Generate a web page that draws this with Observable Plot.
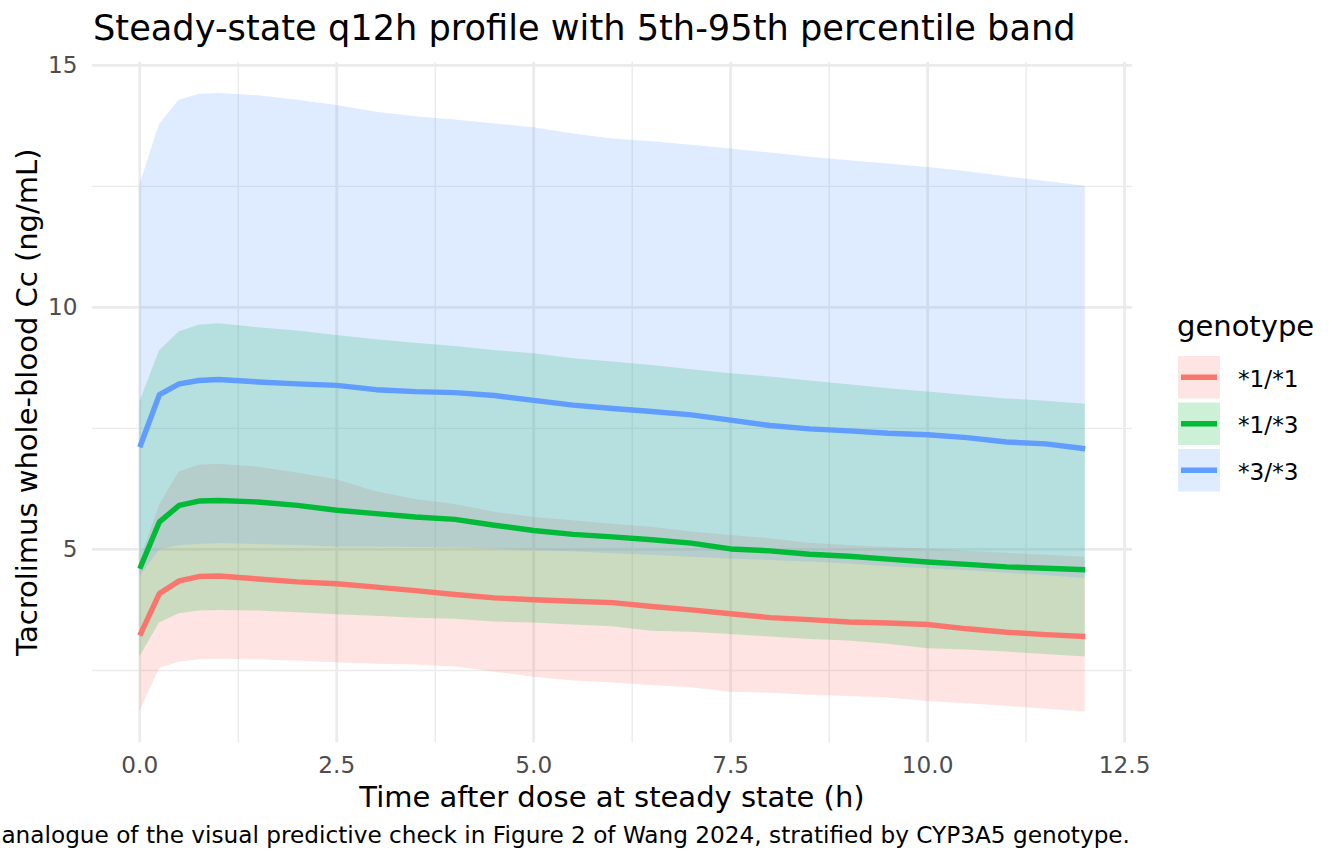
<!DOCTYPE html>
<html>
<head>
<meta charset="utf-8">
<script src="https://cdn.jsdelivr.net/npm/d3@7"></script>
<script src="https://cdn.jsdelivr.net/npm/@observablehq/plot@0.6"></script>
<style>
  html, body { margin: 0; padding: 0; background: #fff; }
  #chart { position: relative; width: 1344px; height: 864px; }
</style>
</head>
<body>
<div id="chart"></div>
<script>
// ---- data ----
const genotypes = ["*1/*1", "*1/*3", "*3/*3"];
const colors = ["#F8766D", "#00BA38", "#619CFF"];
const times = [0, 0.25, 0.5, 0.75, 1, 1.5, 2, 2.5, 3, 3.5, 4, 4.5, 5, 5.5, 6, 6.5, 7, 7.5, 8, 8.5, 9, 9.5, 10, 10.5, 11, 11.5, 12];

const med11 = [3.22, 4.09, 4.35, 4.44, 4.45, 4.39, 4.33, 4.29, 4.22, 4.15, 4.07, 4.00, 3.96, 3.93, 3.90, 3.82, 3.75, 3.67, 3.59, 3.55, 3.50, 3.48, 3.45, 3.36, 3.29, 3.24, 3.20];
const lo11  = [1.64, 2.54, 2.67, 2.72, 2.73, 2.72, 2.69, 2.66, 2.63, 2.61, 2.57, 2.47, 2.36, 2.28, 2.24, 2.19, 2.14, 2.05, 2.03, 1.99, 1.96, 1.93, 1.86, 1.81, 1.76, 1.70, 1.64];
const hi11  = [4.75, 5.91, 6.60, 6.74, 6.76, 6.70, 6.58, 6.44, 6.19, 6.03, 5.93, 5.77, 5.66, 5.59, 5.52, 5.46, 5.36, 5.29, 5.22, 5.13, 5.08, 5.04, 5.01, 4.96, 4.92, 4.88, 4.84];

const med13 = [4.60, 5.57, 5.91, 6.00, 6.01, 5.98, 5.91, 5.81, 5.74, 5.67, 5.62, 5.50, 5.39, 5.31, 5.26, 5.20, 5.13, 5.01, 4.97, 4.90, 4.86, 4.80, 4.74, 4.69, 4.64, 4.61, 4.58];
const lo13  = [2.78, 3.48, 3.67, 3.73, 3.74, 3.73, 3.69, 3.65, 3.62, 3.58, 3.56, 3.50, 3.48, 3.44, 3.40, 3.31, 3.29, 3.24, 3.19, 3.14, 3.11, 3.04, 2.95, 2.92, 2.88, 2.83, 2.78];
const hi13  = [8.04, 9.10, 9.49, 9.63, 9.66, 9.58, 9.51, 9.42, 9.33, 9.26, 9.19, 9.11, 9.04, 8.94, 8.87, 8.80, 8.71, 8.63, 8.56, 8.48, 8.40, 8.32, 8.25, 8.18, 8.11, 8.06, 8.00];

const med33 = [7.11, 8.20, 8.42, 8.49, 8.51, 8.46, 8.42, 8.39, 8.30, 8.26, 8.24, 8.18, 8.08, 7.98, 7.91, 7.85, 7.78, 7.67, 7.56, 7.49, 7.45, 7.40, 7.37, 7.31, 7.22, 7.18, 7.08];
const lo33  = [4.43, 4.99, 5.08, 5.10, 5.12, 5.10, 5.08, 5.05, 5.05, 5.04, 5.03, 5.01, 4.97, 4.95, 4.91, 4.88, 4.84, 4.80, 4.77, 4.74, 4.70, 4.64, 4.60, 4.56, 4.51, 4.46, 4.40];
const hi33  = [12.52, 13.78, 14.28, 14.40, 14.42, 14.37, 14.28, 14.17, 14.03, 13.94, 13.87, 13.79, 13.71, 13.58, 13.48, 13.42, 13.35, 13.27, 13.19, 13.10, 13.03, 12.96, 12.89, 12.80, 12.70, 12.60, 12.50];

const xMajorTicks = [0, 2.5, 5, 7.5, 10, 12.5];
const xMinorTicks = [1.25, 3.75, 6.25, 8.75, 11.25];
const yMajorTicks = [5, 10, 15];
const yMinorTicks = [2.5, 7.5, 12.5];

const titleText = "Steady-state q12h profile with 5th-95th percentile band";
const xLabel = "Time after dose at steady state (h)";
const yLabel = "Tacrolimus whole-blood Cc (ng/mL)";
const captionText = "analogue of the visual predictive check in Figure 2 of Wang 2024, stratified by CYP3A5 genotype.";
const legendTitle = "genotype";

// ---- build table ----
const series = [[lo11, med11, hi11], [lo13, med13, hi13], [lo33, med33, hi33]];
const rows = [];
genotypes.forEach((g, gi) => {
  times.forEach((t, i) => {
    rows.push({genotype: g, t, lo: series[gi][0][i], med: series[gi][1][i], hi: series[gi][2][i]});
  });
});

// ggplot-like 5% expansion
const xExt = d3.extent(times);
const yExt = [d3.min(rows, d => d.lo), d3.max(rows, d => d.hi)];
const xPad = (xExt[1] - xExt[0]) * 0.05;
const yPad = (yExt[1] - yExt[0]) * 0.05;

const W = 1344, H = 864;
const mL = 92, mR = 212, mT = 62, mB = 121.5;
const font = "DejaVu Sans";

const marks = [
  Plot.ruleX(xMinorTicks, {stroke: "#EBEBEB", strokeWidth: 1.4}),
  Plot.ruleY(yMinorTicks, {stroke: "#EBEBEB", strokeWidth: 1.4}),
  Plot.ruleX(xMajorTicks, {stroke: "#EBEBEB", strokeWidth: 2.8}),
  Plot.ruleY(yMajorTicks, {stroke: "#EBEBEB", strokeWidth: 2.8})
];
genotypes.forEach(g => {
  marks.push(Plot.areaY(rows.filter(d => d.genotype === g), {x: "t", y1: "lo", y2: "hi", fill: "genotype", fillOpacity: 0.2}));
});
genotypes.forEach(g => {
  marks.push(Plot.lineY(rows.filter(d => d.genotype === g), {x: "t", y: "med", stroke: "genotype", strokeWidth: 5.4, strokeLinejoin: "round", strokeLinecap: "butt"}));
});

const svg = Plot.plot({
  width: W,
  height: H,
  marginLeft: mL,
  marginRight: mR,
  marginTop: mT,
  marginBottom: mB,
  style: {fontFamily: font, fontSize: "23.2px", color: "#4D4D4D", background: "#fff"},
  x: {domain: [xExt[0] - xPad, xExt[1] + xPad], ticks: xMajorTicks, tickFormat: d3.format(".1f"), tickSize: 0, tickPadding: 14, label: null},
  y: {domain: [yExt[0] - yPad, yExt[1] + yPad], ticks: yMajorTicks, tickFormat: d => String(d), tickSize: 0, tickPadding: 15, label: null},
  color: {domain: genotypes, range: colors},
  marks
});

document.getElementById("chart").appendChild(svg);

// ---- titles, caption and legend ----
const s = d3.select(svg);
const panelCx = mL + (W - mL - mR) / 2;
const panelCy = mT + (H - mT - mB) / 2;

function addText(x, y, size, anchor, txt, transform) {
  const t = s.append("text").attr("text-anchor", anchor)
    .attr("font-family", font).attr("font-size", size).attr("fill", "#000").text(txt);
  if (transform) t.attr("transform", transform); else t.attr("x", x).attr("y", y);
  return t;
}

addText(93, 40, 35.2, "start", titleText);
addText(panelCx, 807, 29, "middle", xLabel);
addText(0, 0, 29, "middle", yLabel, `translate(37,${panelCy}) rotate(-90)`);
addText(1130, 843, 23.2, "end", captionText);
addText(1177, 336, 29, "start", legendTitle);

genotypes.forEach((g, i) => {
  const y0 = 356 + i * 46.5;
  s.append("rect").attr("x", 1178).attr("y", y0).attr("width", 42).attr("height", 42.5)
    .attr("fill", colors[i]).attr("fill-opacity", 0.2);
  s.append("line").attr("x1", 1181).attr("x2", 1217).attr("y1", y0 + 21.25).attr("y2", y0 + 21.25)
    .attr("stroke", colors[i]).attr("stroke-width", 5.4);
  addText(1238, y0 + 30.5, 23.2, "start", g);
});
</script>
</body>
</html>
